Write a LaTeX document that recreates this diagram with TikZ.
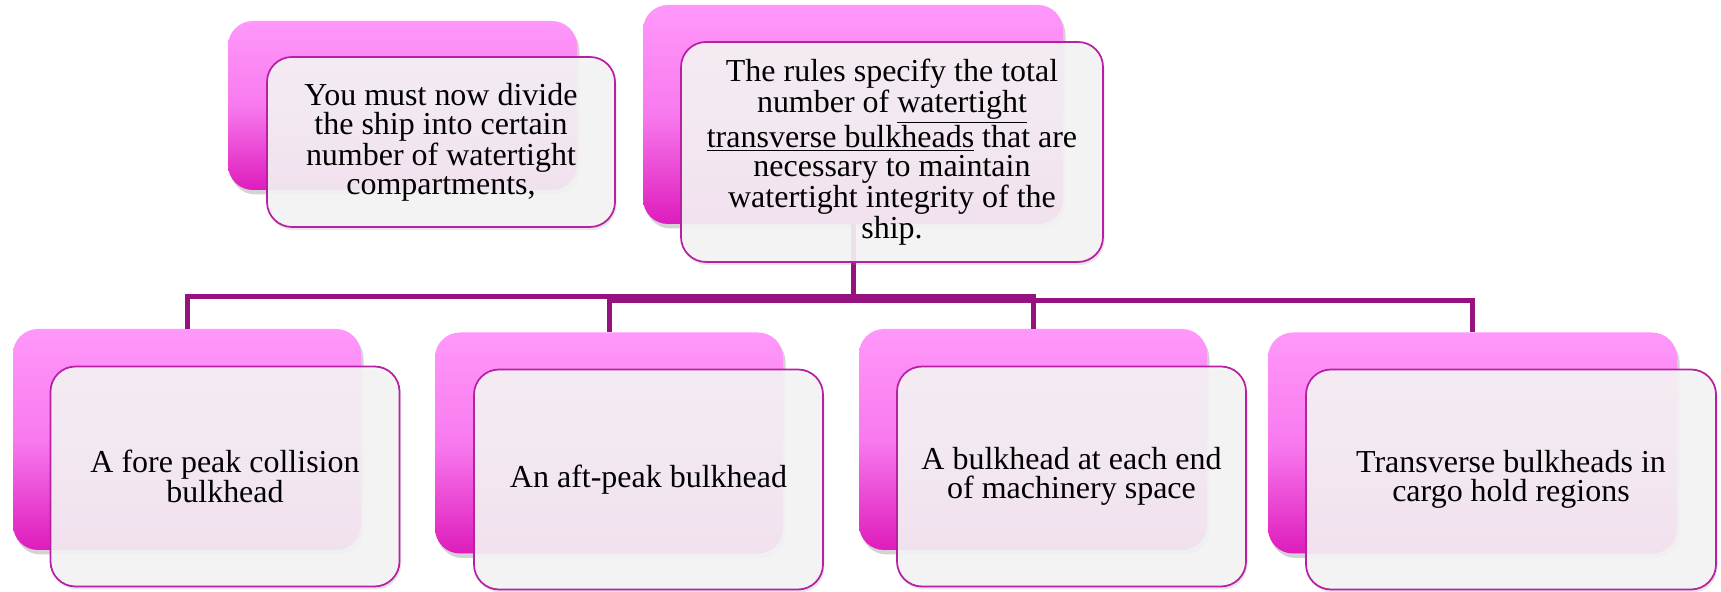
\documentclass[tikz,border=0pt]{standalone}
\usepackage{fontspec}
\setmainfont{Liberation Serif}
\usetikzlibrary{shadows}
\usetikzlibrary{positioning}

\definecolor{pinktop}{RGB}{255,152,250}
\definecolor{pinkmid}{RGB}{248,122,238}
\definecolor{pinkbot}{RGB}{222,28,188}
\definecolor{plumline}{RGB}{150,18,126}
\definecolor{plumedge}{RGB}{184,32,164}
\definecolor{paper}{RGB}{245,245,245}

\begin{document}
\begin{tikzpicture}
  [backbox/.style={rectangle,rounded corners=0.5cm,draw=none,top color=pinktop,bottom color=pinkbot,middle color=pinkmid,minimum width=6.96cm,minimum height=4.42cm,drop shadow={shadow xshift=0.05cm,shadow yshift=-0.09cm,opacity=0.35}},
  frontbox/.style={rectangle,rounded corners=0.5cm,draw=plumedge,line width=0.035cm,fill=paper,fill opacity=0.9,text opacity=1,minimum width=6.98cm,minimum height=4.4cm,align=center,font=\fontsize{18.2}{16.5}\selectfont,drop shadow={shadow xshift=0.03cm,shadow yshift=-0.06cm,opacity=0.2}},
  link/.style={draw=plumline,line width=0.1cm}]
  \useasboundingbox (0,0) rectangle (34.42,11.84);

  % pink cards at the back
  \node[backbox,minimum width=6.98cm,minimum height=3.38cm] (dividebk) at (8.05,9.73) {};
  \node[backbox,minimum width=8.4cm,minimum height=4.38cm] (rulesbk) at (17.06,9.55) {};
  \node[backbox] (forebk) at (3.74,3.05) {};
  \node[backbox] (aftbk) at (12.18,2.98) {};
  \node[backbox] (machbk) at (20.66,3.05) {};
  \node[backbox,minimum width=8.18cm] (cargobk) at (29.45,2.98) {};

  % tree links
  \coordinate (hubA) at (17.06,5.9);
  \coordinate (hubB) at (17.06,5.82);
  \draw[link] (rulesbk.south) -- (hubA) -| (forebk.north);
  \draw[link] (rulesbk.south) -- (hubB) -| (aftbk.north);
  \draw[link] (rulesbk.south) -- (hubA) -| (machbk.north);
  \draw[link] (rulesbk.south) -- (hubB) -| (cargobk.north);

  % text cards in front
  \node[frontbox,minimum width=6.96cm,minimum height=3.4cm] (dividetx) at (8.82,9.0)
    {You must now divide\\the ship into certain\\number of watertight\\compartments,};
  \node[frontbox,minimum width=8.44cm,minimum height=4.4cm] (rulestx) at (17.84,8.8)
    {The rules specify the total\\number of \underline{watertight}\\\underline{transverse bulkheads} that are\\necessary to maintain\\watertight integrity of the\\ship.};
  \node[frontbox] (foretx) at (4.5,2.31) {A fore peak collision\\bulkhead};
  \node[frontbox] (afttx) at (12.97,2.25) {An aft-peak bulkhead};
  \node[frontbox] (machtx) at (21.43,2.31) {A bulkhead at each end\\of machinery space};
  \node[frontbox,minimum width=8.2cm] (cargotx) at (30.22,2.25) {Transverse bulkheads in\\cargo hold regions};

\end{tikzpicture}
\end{document}
